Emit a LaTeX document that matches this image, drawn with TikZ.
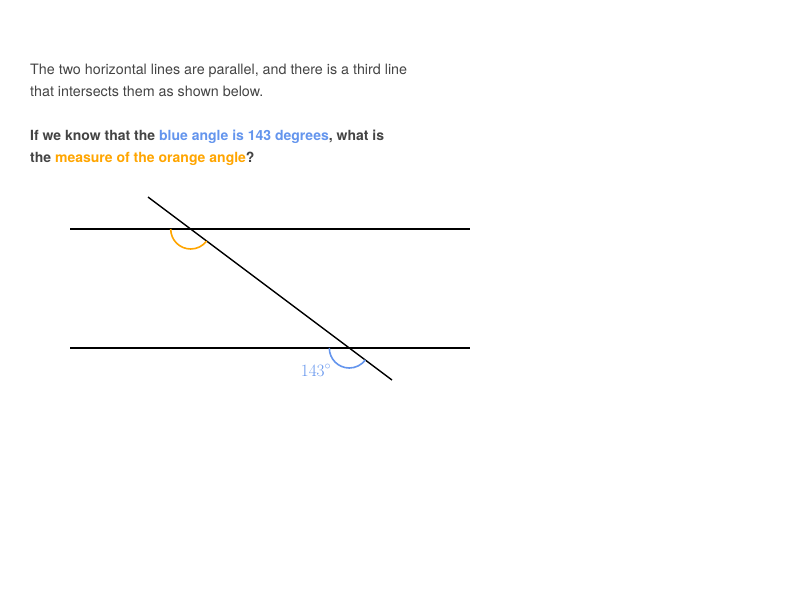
\documentclass[tikz,border=0pt]{standalone}
\usepackage[no-math]{fontspec}
\setmainfont{TeX Gyre Heros}
\definecolor{angleblue}{HTML}{6495ED}
\definecolor{angleorange}{HTML}{FFA500}
\definecolor{textgray}{HTML}{444444}
\tikzset{
  qtext/.style={anchor=base west,inner sep=0pt,text=textgray,font=\fontsize{14.3}{16}\selectfont},
  boldtext/.style={qtext,font=\fontsize{14}{16}\selectfont\bfseries},
  geoline/.style={black,line width=1.4pt},
  anglearc/.style={line width=1.6pt}
}
\begin{document}
\begin{tikzpicture}[x=1pt,y=1pt]
\useasboundingbox (0,0) rectangle (800,-600);
% question text
\node[qtext] (lineA) at (30,-74) {The two horizontal lines are parallel, and there is a third line};
\node[qtext] (lineB) at (30,-96) {that intersects them as shown below.};
\node[boldtext] (lineC) at (30,-140) {If we know that the \textcolor{angleblue}{blue angle is 143 degrees}, what is};
\node[boldtext] (lineD) at (30,-162) {the \textcolor{angleorange}{measure of the orange angle}?};
% parallel lines and the transversal
\draw[geoline] (70,-229) -- (470,-229);
\draw[geoline] (70,-348) -- (470,-348);
\draw[geoline] (148,-197) -- (392,-380);
% angles
\coordinate (top) at (190.7,-229);
\coordinate (bot) at (349.3,-348);
\draw[anglearc,angleorange] ([shift={(180:20)}]top) arc(180:323.13:20);
\draw[anglearc,angleblue] ([shift={(180:20)}]bot) arc(180:323.13:20);
\node[text=angleblue,anchor=base,inner sep=0pt,font=\fontsize{17}{17}\selectfont] (val) at (316,-376) {$143^\circ$};
\end{tikzpicture}
\end{document}
